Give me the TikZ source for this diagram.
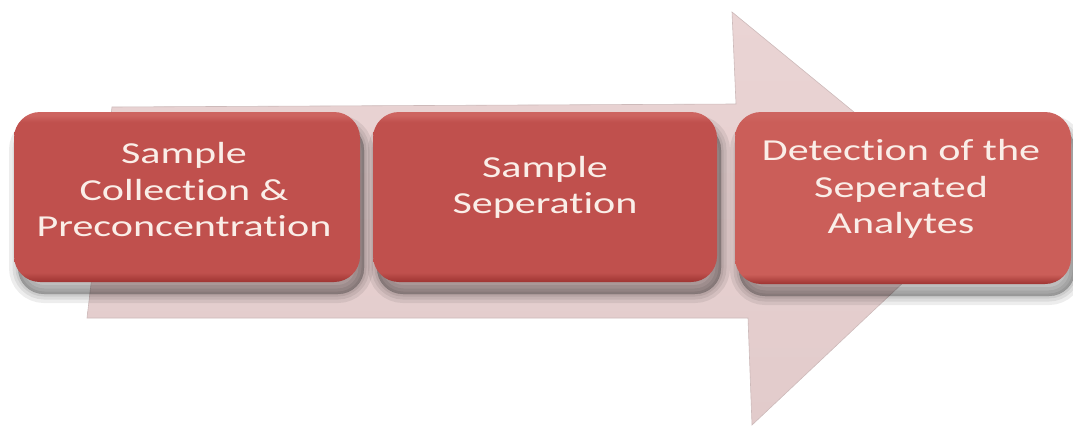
\documentclass[tikz,border=0pt]{standalone}
\usepackage{fontspec}
\newfontfamily\boxfont[FakeStretch=1.38, Ligatures={NoCommon}]{Carlito}

\definecolor{boxred}{RGB}{192,80,77}
\definecolor{boxredlight}{RGB}{203,94,89}
\definecolor{rimdark}{RGB}{158,52,50}
\definecolor{boxhi}{RGB}{205,100,96}
\definecolor{arrowtop}{RGB}{234,212,212}
\definecolor{arrowbot}{RGB}{226,203,203}
\definecolor{arrowedge}{RGB}{205,186,186}
\definecolor{labeltext}{RGB}{250,238,232}

% bevelled fill: dark rim along the bottom, faint highlight along the top
\pgfdeclareverticalshading{boxshade}{100bp}{%
  color(0bp)=(rimdark); color(25bp)=(rimdark); color(27.8bp)=(boxred);
  color(72bp)=(boxred); color(74bp)=(boxhi); color(100bp)=(boxhi)}
\pgfdeclareverticalshading{boxshadelight}{100bp}{%
  color(0bp)=(rimdark); color(25bp)=(rimdark); color(27.8bp)=(boxredlight);
  color(72bp)=(boxredlight); color(74bp)=(boxhi); color(100bp)=(boxhi)}

\tikzset{
  softshadow/.style={preaction={fill=black, draw=black, line width=#1,
      opacity=0.07, transform canvas={shift={(4pt,-12pt)}}}},
  stepbox/.style={rectangle, rounded corners=26pt, shading=boxshade,
      softshadow=18pt, softshadow=11pt, softshadow=5pt, softshadow=0.5pt},
  steplabel/.style={text=labeltext, align=center,
      font=\boxfont\fontsize{30.5}{36.5}\selectfont},
  bigarrow/.style={top color=arrowtop, bottom color=arrowbot,
      draw=arrowedge, line width=0.6pt, line join=miter}
}

\begin{document}
\begin{tikzpicture}[x=1pt,y=-1pt]
\useasboundingbox (0,0) rectangle (1073,428);

% broad process arrow behind the steps
\path[bigarrow] (112,107) -- (736,104) -- (732,12) -- (977,213)
  -- (752,425) -- (748,318) -- (87,318) -- cycle;

% the three step boxes
\node[stepbox, minimum width=346pt, minimum height=170pt] (collect) at (187,197) {};
\node[stepbox, minimum width=344pt, minimum height=170pt] (separate) at (545,197) {};
\node[stepbox, shading=boxshadelight, minimum width=336pt, minimum height=172pt]
  (detect) at (903,198) {};

% their captions, set a little above centre
\node[steplabel] (collect-text) at ([xshift=-3pt, yshift=7pt]collect.center)
  {Sample\\Collection \&\\Preconcentration};
\node[steplabel] (separate-text) at ([yshift=9.5pt]separate.center)
  {Sample\\Seperation};
\node[steplabel] (detect-text) at ([xshift=-2pt, yshift=9pt]detect.center)
  {Detection of the\\Seperated\\Analytes};
\end{tikzpicture}
\end{document}
